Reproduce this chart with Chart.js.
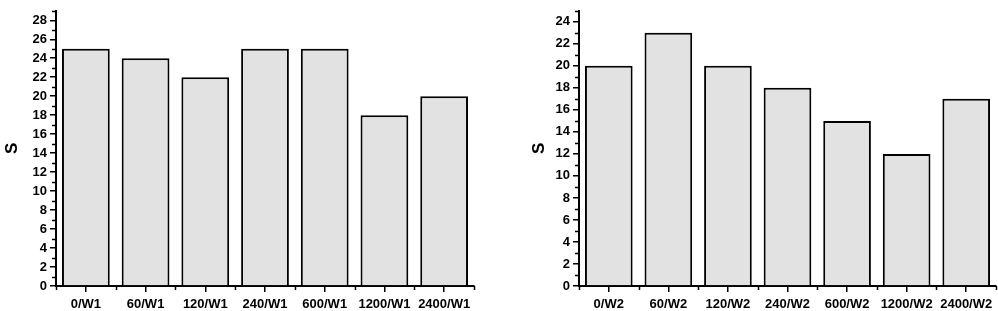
<!DOCTYPE html>
<html>
<head>
<meta charset="utf-8">
<script src="https://cdn.jsdelivr.net/npm/chart.js@4.4.1/dist/chart.umd.min.js"></script>
<style>
  html, body { margin: 0; padding: 0; background: #fff; }
  body { width: 998px; height: 311px; position: relative; overflow: hidden; }
  .box { position: absolute; top: 0; height: 311px; }
  #left-box { left: 0; width: 480px; }
  #right-box { left: 527px; width: 471px; }
</style>
</head>
<body>
<div class="box" id="left-box"><canvas id="chart-w1"></canvas></div>
<div class="box" id="right-box"><canvas id="chart-w2"></canvas></div>
<script>
const labelsW1 = ['0/W1', '60/W1', '120/W1', '240/W1', '600/W1', '1200/W1', '2400/W1'];
const valuesW1 = [25, 24, 22, 25, 25, 18, 20];
const labelsW2 = ['0/W2', '60/W2', '120/W2', '240/W2', '600/W2', '1200/W2', '2400/W2'];
const valuesW2 = [20, 23, 20, 18, 15, 12, 17];
const yMaxW1 = 29;
const yMaxW2 = 25;

Chart.defaults.font.family = "'Liberation Sans', Arial, sans-serif";
Chart.defaults.color = '#000';

// little minor ticks like the original plot
const minorTicks = {
    id: 'minorTicks',
    afterDraw(chart) {
        const ctx = chart.ctx;
        const x = chart.scales.x;
        const y = chart.scales.y;
        ctx.save();
        ctx.strokeStyle = '#000';
        ctx.lineWidth = 1.5;
        ctx.beginPath();
        for (let v = 1; v <= y.max; v += 2) {
            const py = Math.round(y.getPixelForValue(v)) + 0.5;
            ctx.moveTo(x.left - 4, py);
            ctx.lineTo(x.left, py);
        }
        const n = chart.data.labels.length;
        for (let i = 0; i <= n; i++) {
            const px = Math.round(x.getPixelForValue(i - 0.5)) + 0.5;
            ctx.moveTo(px, y.bottom);
            ctx.lineTo(px, y.bottom + 4);
        }
        ctx.stroke();
        ctx.restore();
    }
};

function makeChart(canvasId, labels, values, yMax, yWidth, padTop, padRight) {
    return new Chart(document.getElementById(canvasId), {
        type: 'bar',
        data: {
            labels: labels,
            datasets: [{
                data: values,
                backgroundColor: '#e2e2e2',
                borderColor: '#000',
                borderWidth: 2,
                barPercentage: 0.8,
                categoryPercentage: 1.0
            }]
        },
        options: {
            responsive: true,
            maintainAspectRatio: false,
            animation: false,
            layout: { padding: { top: padTop, right: padRight, left: 0, bottom: 0 } },
            plugins: { legend: { display: false }, tooltip: { enabled: false } },
            scales: {
                x: {
                    offset: true,
                    grid: { display: true, drawOnChartArea: false, offset: false, tickLength: 6, color: '#000', lineWidth: 1.5 },
                    border: { color: '#000', width: 2 },
                    ticks: { font: { size: 13, weight: 'bold' }, padding: 5, maxRotation: 0, autoSkip: false },
                    afterFit: s => { s.height = 25; }
                },
                y: {
                    min: 0,
                    max: yMax,
                    grid: { drawOnChartArea: false, tickLength: 6, color: '#000', lineWidth: 1.5 },
                    border: { color: '#000', width: 2 },
                    ticks: { stepSize: 2, includeBounds: false, font: { size: 13, weight: 'bold' }, padding: 3 },
                    title: { display: true, text: 'S', font: { size: 17, weight: 'bold' }, padding: { top: 2, bottom: 0 } },
                    afterFit: s => { s.width = yWidth; }
                }
            }
        },
        plugins: [minorTicks]
    });
}

makeChart('chart-w1', labelsW1, valuesW1, yMaxW1, 56, 5, 6);
makeChart('chart-w2', labelsW2, valuesW2, yMaxW2, 52, 2, 2);
</script>
</body>
</html>
